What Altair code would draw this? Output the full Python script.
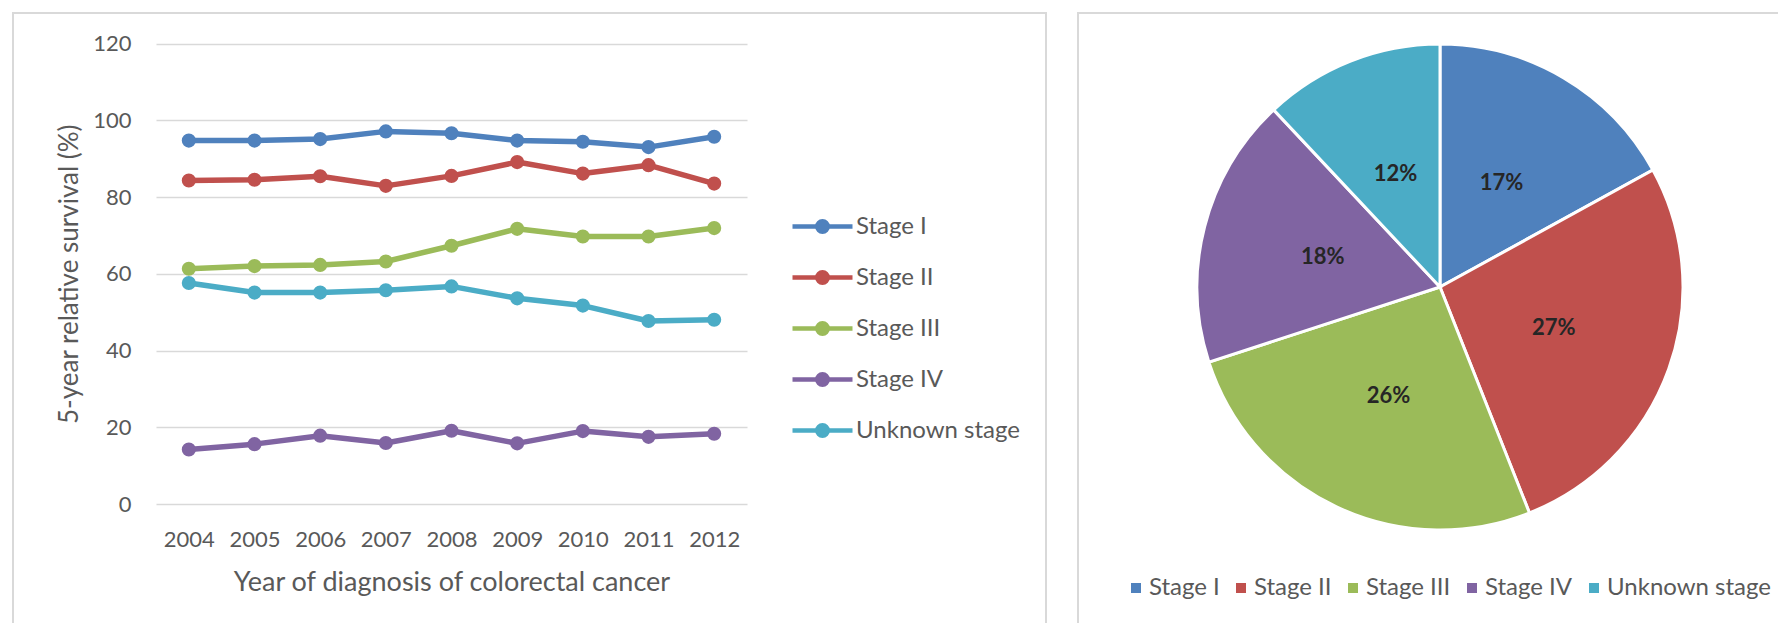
import altair as alt
import pandas as pd

# Diagnosis years and stage categories
years = [2004, 2005, 2006, 2007, 2008, 2009, 2010, 2011, 2012]
stages = ["Stage I", "Stage II", "Stage III", "Stage IV", "Unknown stage"]
stage_colors = ["#4F81BD", "#C0504D", "#9BBB59", "#8064A2", "#4BACC6"]

# 5-year relative survival (%) by year of diagnosis
surv_stage_1 = [94.7, 94.7, 95.1, 97.1, 96.6, 94.7, 94.4, 93.0, 95.7]
surv_stage_2 = [84.3, 84.5, 85.4, 82.9, 85.5, 89.1, 86.1, 88.3, 83.5]
surv_stage_3 = [61.3, 62.0, 62.3, 63.2, 67.3, 71.7, 69.7, 69.7, 71.9]
surv_stage_4 = [14.2, 15.6, 17.8, 15.9, 19.1, 15.8, 19.0, 17.5, 18.3]
surv_unknown = [57.6, 55.1, 55.1, 55.7, 56.7, 53.6, 51.7, 47.7, 48.0]

# Stage distribution of cases (%)
stage_share = [17, 27, 26, 18, 12]

y_ticks = [0, 20, 40, 60, 80, 100, 120]

FONT = "Lato"
TEXT_GREY = "#595959"
FRAME_GREY = "#D9D9D9"

series = [surv_stage_1, surv_stage_2, surv_stage_3, surv_stage_4, surv_unknown]
survival = pd.DataFrame(
    [
        {"year": y, "stage": s, "survival": v}
        for s, vals in zip(stages, series)
        for y, v in zip(years, vals)
    ]
)
shares = pd.DataFrame(
    {"stage": stages, "share": stage_share, "rank": list(range(len(stages)))}
)

stage_scale = alt.Scale(domain=stages, range=stage_colors)

# Legend glyph for the line series: a short line with a dot in the middle
line_dot_glyph = (
    "M-2,0H2"
    "M-0.35,0A0.35,0.35,0,1,1,0.35,0A0.35,0.35,0,1,1,-0.35,0Z"
    "M-0.1,0A0.1,0.1,0,1,1,0.1,0A0.1,0.1,0,1,1,-0.1,0Z"
)

x_enc = alt.X(
    "year:O",
    scale=alt.Scale(type="point", range=[156, 747], padding=0.5),
    axis=alt.Axis(
        orient="bottom",
        offset=-119,
        labelAngle=0,
        domain=False,
        ticks=False,
        tickSize=0,
        grid=False,
        labelPadding=25,
        labelFont=FONT,
        labelFontSize=22,
        labelColor=TEXT_GREY,
        title="Year of diagnosis of colorectal cancer",
        titleFont=FONT,
        titleFontSize=27,
        titleFontWeight="normal",
        titleColor=TEXT_GREY,
        titleY=86,
        titleBaseline="alphabetic",
    ),
)
y_enc = alt.Y(
    "survival:Q",
    scale=alt.Scale(domain=[0, 120], range=[504, 43.5], nice=False, zero=True),
    axis=alt.Axis(
        orient="left",
        offset=-156,
        values=y_ticks,
        grid=True,
        gridColor=FRAME_GREY,
        gridWidth=1.5,
        domain=False,
        ticks=False,
        tickSize=0,
        labelPadding=25,
        labelFont=FONT,
        labelFontSize=22,
        labelColor=TEXT_GREY,
        title="5-year relative survival (%)",
        titleFont=FONT,
        titleFontSize=26,
        titleFontWeight="normal",
        titleColor=TEXT_GREY,
        titleX=-79,
        titleBaseline="alphabetic",
    ),
)

# Panel frames
frame_data = alt.Data(values=[{}])
left_frame = alt.Chart(frame_data).mark_rect(
    fillOpacity=0, stroke=FRAME_GREY, strokeWidth=2
).encode(x=alt.value(13), x2=alt.value(1046), y=alt.value(13), y2=alt.value(700))
right_frame = alt.Chart(frame_data).mark_rect(
    fillOpacity=0, stroke=FRAME_GREY, strokeWidth=2
).encode(x=alt.value(1078), x2=alt.value(1850), y=alt.value(13), y2=alt.value(700))

# Survival trends
lines = alt.Chart(survival).mark_line(
    strokeWidth=5.5, strokeCap="round", strokeJoin="round"
).encode(
    x=x_enc,
    y=y_enc,
    stroke=alt.Stroke(
        "stage:N",
        scale=stage_scale,
        legend=alt.Legend(
            orient="none",
            legendX=805,
            legendY=209,
            title=None,
            padding=0,
            symbolType=line_dot_glyph,
            symbolSize=900,
            symbolStrokeWidth=4.5,
            labelOffset=16,
            labelLimit=300,
            rowPadding=19,
            labelFont=FONT,
            labelFontSize=24,
            labelColor=TEXT_GREY,
        ),
    ),
)
points = alt.Chart(survival).mark_point(filled=True, size=200, opacity=1).encode(
    x=x_enc,
    y=y_enc,
    color=alt.Color("stage:N", scale=stage_scale, legend=None),
)

# Stage distribution pie
pie_center_x = alt.value(1440)
pie_center_y = alt.value(287)
slices = alt.Chart(shares).mark_arc(
    radius=243, stroke="white", strokeWidth=3
).encode(
    theta=alt.Theta("share:Q", stack=True),
    order=alt.Order("rank:Q"),
    fill=alt.Fill(
        "stage:N",
        scale=stage_scale,
        legend=alt.Legend(
            orient="none",
            direction="horizontal",
            legendX=1124,
            legendY=576,
            title=None,
            padding=0,
            symbolType="square",
            symbolSize=100,
            symbolStrokeWidth=0,
            labelOffset=1,
            labelLimit=300,
            columnPadding=9,
            labelFont=FONT,
            labelFontSize=24,
            labelColor=TEXT_GREY,
        ),
    ),
    x=pie_center_x,
    y=pie_center_y,
)
slice_labels = alt.Chart(shares).transform_calculate(
    label="format(datum.share, 'd') + '%'"
).mark_text(
    radius=121, font=FONT, fontSize=22, fontWeight="bold", color="#262626"
).encode(
    theta=alt.Theta("share:Q", stack=True),
    order=alt.Order("rank:Q"),
    detail="stage:N",
    text="label:N",
    x=pie_center_x,
    y=pie_center_y,
)

chart = (
    alt.layer(left_frame, right_frame, lines, points, slices, slice_labels)
    .resolve_scale(color="independent", fill="independent", stroke="independent")
    .properties(
        width=1778,
        height=623,
        padding=0,
        autosize=alt.AutoSizeParams(type="none"),
        background="white",
    )
    .configure_view(strokeWidth=0)
)

chart.save("out.html", embed_options={"renderer": "svg", "actions": False})
